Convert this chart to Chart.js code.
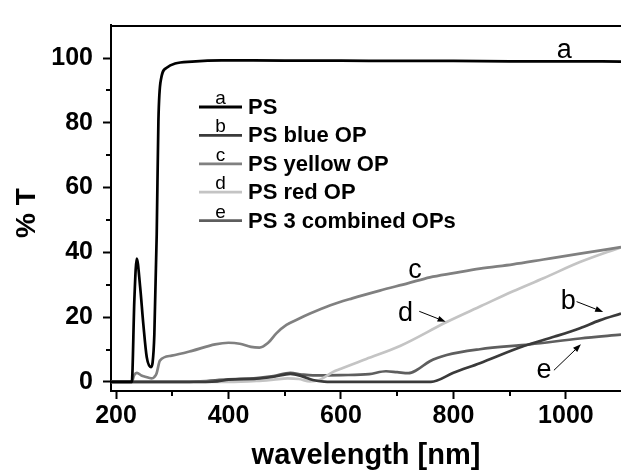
<!DOCTYPE html>
<html><head><meta charset="utf-8">
<style>html,body{margin:0;padding:0;background:#fff;overflow:hidden}#wrap{width:621px;height:472px}</style>
<script src="https://cdn.jsdelivr.net/npm/chart.js@4.4.1/dist/chart.umd.min.js"></script>
</head><body><div id="wrap"><canvas id="c" width="621" height="472"></canvas></div>
<script>
// ---- data ----
const seriesNames = ['PS', 'PS blue OP', 'PS yellow OP', 'PS red OP', 'PS 3 combined OPs'];
const seriesLetters = ['a', 'b', 'c', 'd', 'e'];
const xTicks = [200, 400, 600, 800, 1000];
const xMinorTicks = [300, 500, 700, 900];
const yTicks = [0, 20, 40, 60, 80, 100];
const yMinorTicks = [10, 30, 50, 70, 90];

const wlA = [191, 228, 232.6, 236.8, 242.7, 248.6, 254.6, 262.2, 265, 268.1, 272.3, 275.3, 280, 290, 305, 335, 388, 500, 600, 700, 800, 900, 1000, 1098];
const tA  = [0, 0, 25.6, 38.1, 29.6, 17.6, 7.6, 4.6, 6, 14.7, 45.5, 80.5, 93.5, 97, 98.3, 98.9, 99.3, 99.2, 99.2, 99.1, 99.1, 99.0, 99.0, 98.9];

const wlB = [191, 330, 380, 400, 450, 480, 510, 530, 550, 570, 600, 700, 760, 800, 847, 924, 980, 1025, 1060, 1098];
const tB  = [0, 0, 0.2, 0.7, 1.0, 1.6, 2.5, 1.8, 0.6, 0.1, 0, 0, 0, 2.8, 5.8, 11, 14, 16.6, 19, 21.1];

const wlC = [191, 228, 232, 237, 245, 252, 263, 268, 272, 278, 299, 335, 376, 400, 420, 440, 455, 470, 485, 503, 525, 545, 580, 620, 669, 720, 758, 800, 847, 906, 960, 1025, 1098];
const tC  = [0, 0, 2, 2.8, 2, 1.6, 1.1, 1.5, 2.6, 6.6, 8.1, 9.6, 11.6, 12.1, 11.8, 10.8, 10.6, 12, 15, 17.6, 19.5, 21.1, 23.6, 25.8, 28.2, 30.5, 32.3, 33.6, 35, 36.3, 37.8, 39.6, 41.6];

const wlD = [191, 400, 450, 480, 505, 525, 545, 560, 586, 600, 645, 705, 788, 850, 906, 960, 1025, 1098];
const tD  = [0, 0, 0.3, 0.7, 1.1, 0.9, 0.2, 0.5, 3.1, 4.1, 7.1, 11.1, 18.5, 23.5, 28, 32, 37, 41.6];

const wlE = [191, 320, 350, 400, 450, 480, 510, 530, 550, 600, 650, 680, 700, 720, 734, 758, 788, 847, 936, 1025, 1098];
const tE  = [0, 0, 0.2, 0.8, 1.2, 1.8, 2.8, 2.3, 2.0, 2.1, 2.4, 3.3, 3.0, 2.7, 3.6, 6.4, 8.3, 10.1, 11.6, 13.4, 14.6];

// labels on the plot (in data coordinates)
const curveLabels = [
  {text: 'a', x: 997.3, y: 100.1},
  {text: 'c', x: 731.6, y: 32.1},
  {text: 'd', x: 714.7, y: 18.8},
  {text: 'b', x: 1004.1, y: 22.6},
  {text: 'e', x: 960.9, y: 1.1}
];
const arrows = [
  {from: [739.2, 21.8], to: [786.1, 18.6]},
  {from: [1019, 24.8], to: [1066.3, 21.6]},
  {from: [978.7, 3.6], to: [1026.7, 11.6]}
];

const colors = ['#000000', '#3a3a3a', '#808080', '#c4c4c4', '#5e5e5e'];
const FONT = '"Liberation Sans", Arial, Helvetica, sans-serif';

function pts(xs, ys) { return xs.map((x, i) => ({x: x, y: ys[i]})); }
const seriesData = [pts(wlA, tA), pts(wlB, tB), pts(wlC, tC), pts(wlD, tD), pts(wlE, tE)];

const overlay = {
  id: 'overlay',
  afterDraw(chart) {
    const {ctx, chartArea: ca, scales} = chart;
    const x = scales.x, y = scales.y;
    ctx.save();
    // top frame line
    ctx.strokeStyle = '#000';
    ctx.lineWidth = 2;
    ctx.beginPath(); ctx.moveTo(ca.left - 1, ca.top + 1); ctx.lineTo(ca.right, ca.top + 1); ctx.stroke();
    // minor ticks
    xMinorTicks.forEach(v => {
      const px = Math.round(x.getPixelForValue(v));
      ctx.beginPath(); ctx.moveTo(px, ca.bottom); ctx.lineTo(px, ca.bottom + 5); ctx.stroke();
    });
    yMinorTicks.forEach(v => {
      const py = Math.round(y.getPixelForValue(v));
      ctx.beginPath(); ctx.moveTo(ca.left, py); ctx.lineTo(ca.left - 5, py); ctx.stroke();
    });
    // legend
    const lx0 = ca.left + 88, lx1 = ca.left + 131, ly0 = ca.top + 82, dy = 28.4;
    chart.data.datasets.forEach((ds, i) => {
      const yy = ly0 + i * dy;
      ctx.strokeStyle = ds.borderColor;
      ctx.lineWidth = 2.8;
      ctx.beginPath(); ctx.moveTo(lx0, yy); ctx.lineTo(lx1, yy); ctx.stroke();
      ctx.fillStyle = '#000';
      ctx.font = '19px ' + FONT;
      ctx.textAlign = 'center'; ctx.textBaseline = 'alphabetic';
      ctx.fillText(seriesLetters[i], (lx0 + lx1) / 2, yy - 3);
      ctx.font = 'bold 22px ' + FONT;
      ctx.textAlign = 'left'; ctx.textBaseline = 'middle';
      ctx.fillText(ds.label, lx1 + 6, yy + 1);
    });
    // curve labels
    ctx.fillStyle = '#000';
    ctx.font = '27px ' + FONT;
    ctx.textAlign = 'center'; ctx.textBaseline = 'alphabetic';
    curveLabels.forEach(l => ctx.fillText(l.text, x.getPixelForValue(l.x), y.getPixelForValue(l.y)));
    // arrows
    ctx.strokeStyle = '#000'; ctx.lineWidth = 1;
    arrows.forEach(a => {
      const x1 = x.getPixelForValue(a.from[0]), y1 = y.getPixelForValue(a.from[1]);
      const x2 = x.getPixelForValue(a.to[0]), y2 = y.getPixelForValue(a.to[1]);
      const ang = Math.atan2(y2 - y1, x2 - x1);
      const hl = 8, hw = 3;
      const bx = x2 - hl * Math.cos(ang), by = y2 - hl * Math.sin(ang);
      ctx.beginPath(); ctx.moveTo(x1, y1); ctx.lineTo(bx, by); ctx.stroke();
      ctx.beginPath();
      ctx.moveTo(x2, y2);
      ctx.lineTo(bx + hw * Math.sin(ang), by - hw * Math.cos(ang));
      ctx.lineTo(bx - hw * Math.sin(ang), by + hw * Math.cos(ang));
      ctx.closePath(); ctx.fill();
    });
    // y axis title
    ctx.save();
    ctx.translate(27, 213);
    ctx.rotate(-Math.PI / 2);
    ctx.font = 'bold 28px ' + FONT;
    ctx.textAlign = 'center'; ctx.textBaseline = 'middle';
    ctx.fillText('% T', 0, 0);
    ctx.restore();
    ctx.restore();
  }
};

Chart.defaults.font.family = FONT;
Chart.defaults.color = '#000';

new Chart(document.getElementById('c'), {
  type: 'line',
  data: {
    datasets: seriesData.map((d, i) => ({
      label: seriesNames[i],
      data: d,
      borderColor: colors[i],
      backgroundColor: colors[i],
      borderWidth: 2.7,
      pointRadius: 0,
      fill: false,
      cubicInterpolationMode: 'monotone'
    }))
  },
  options: {
    responsive: false,
    animation: false,
    devicePixelRatio: 1,
    layout: {padding: {top: 14, right: 0, left: 0, bottom: 0}},
    plugins: {legend: {display: false}, tooltip: {enabled: false}},
    scales: {
      x: {
        type: 'linear',
        min: 191, max: 1098,
        afterFit(s) { s.height = 81; },
        afterBuildTicks(s) { s.ticks = xTicks.map(v => ({value: v})); },
        ticks: {
          autoSkip: false, maxRotation: 0, padding: 2,
          font: {size: 25, weight: 'bold', lineHeight: 1.2},
          color: '#000',
          callback: v => String(v)
        },
        grid: {drawOnChartArea: false, drawTicks: true, tickLength: 8, tickWidth: 2, tickColor: '#000'},
        border: {display: true, color: '#000', width: 2},
        title: {display: true, text: 'wavelength [nm]', color: '#000',
          font: {size: 29, weight: 'bold', lineHeight: 1}, padding: {top: 0, bottom: 2}}
      },
      y: {
        type: 'linear',
        min: -2.8, max: 110.2,
        afterFit(s) { s.width = 111; },
        afterBuildTicks(s) { s.ticks = yTicks.map(v => ({value: v})); },
        ticks: {
          autoSkip: false, padding: 10,
          font: {size: 25, weight: 'bold', lineHeight: 1.2},
          color: '#000',
          callback: v => String(v)
        },
        grid: {drawOnChartArea: false, drawTicks: true, tickLength: 8, tickWidth: 2, tickColor: '#000'},
        border: {display: true, color: '#000', width: 2},
        title: {display: false}
      }
    }
  },
  plugins: [overlay]
});
</script>
</body></html>
